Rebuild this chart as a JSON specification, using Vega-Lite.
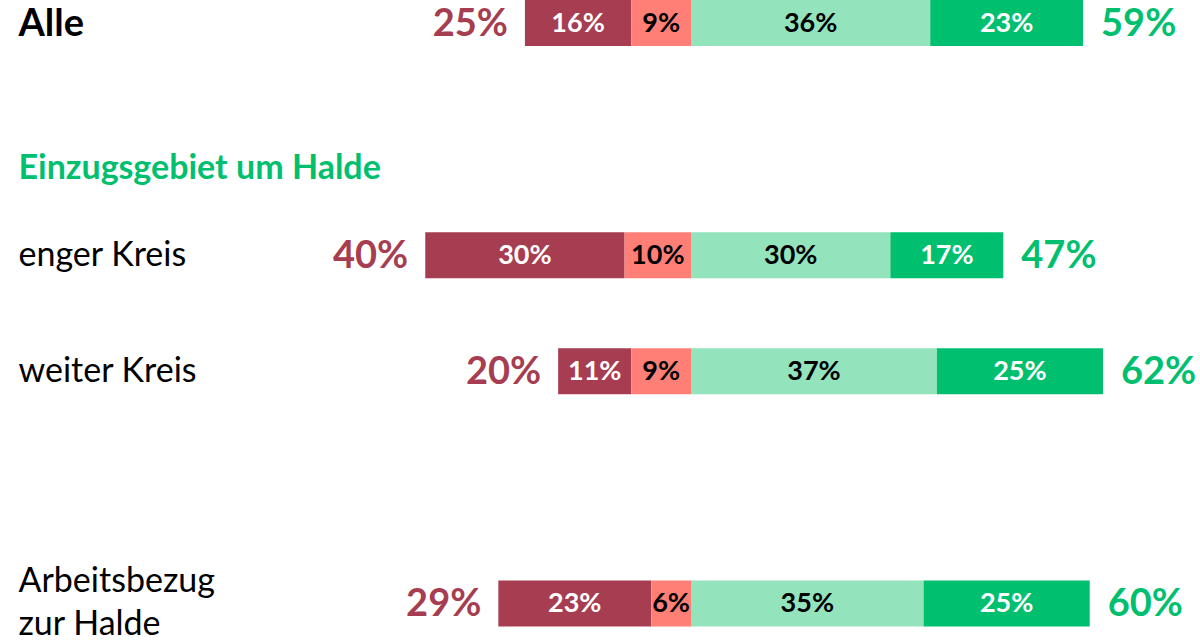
{
  "$schema": "https://vega.github.io/schema/vega-lite/v6.json",
  "width": 1200,
  "height": 641,
  "autosize": {"type": "none"},
  "padding": 0,
  "background": "white",
  "config": {"view": {"stroke": null}, "font": "Lato"},
  "datasets": {
    "segments": [
      {"gruppe": "Alle", "stufe": "sehr negativ", "rang": 2, "anteil": -16, "label": "16%"},
      {"gruppe": "Alle", "stufe": "eher negativ", "rang": 1, "anteil": -9, "label": "9%"},
      {"gruppe": "Alle", "stufe": "eher positiv", "rang": 3, "anteil": 36, "label": "36%"},
      {"gruppe": "Alle", "stufe": "sehr positiv", "rang": 4, "anteil": 23, "label": "23%"},
      {"gruppe": "enger Kreis", "stufe": "sehr negativ", "rang": 2, "anteil": -30, "label": "30%"},
      {"gruppe": "enger Kreis", "stufe": "eher negativ", "rang": 1, "anteil": -10, "label": "10%"},
      {"gruppe": "enger Kreis", "stufe": "eher positiv", "rang": 3, "anteil": 30, "label": "30%"},
      {"gruppe": "enger Kreis", "stufe": "sehr positiv", "rang": 4, "anteil": 17, "label": "17%"},
      {"gruppe": "weiter Kreis", "stufe": "sehr negativ", "rang": 2, "anteil": -11, "label": "11%"},
      {"gruppe": "weiter Kreis", "stufe": "eher negativ", "rang": 1, "anteil": -9, "label": "9%"},
      {"gruppe": "weiter Kreis", "stufe": "eher positiv", "rang": 3, "anteil": 37, "label": "37%"},
      {"gruppe": "weiter Kreis", "stufe": "sehr positiv", "rang": 4, "anteil": 25, "label": "25%"},
      {"gruppe": "Arbeitsbezug zur Halde", "stufe": "sehr negativ", "rang": 2, "anteil": -23, "label": "23%"},
      {"gruppe": "Arbeitsbezug zur Halde", "stufe": "eher negativ", "rang": 1, "anteil": -6, "label": "6%"},
      {"gruppe": "Arbeitsbezug zur Halde", "stufe": "eher positiv", "rang": 3, "anteil": 35, "label": "35%"},
      {"gruppe": "Arbeitsbezug zur Halde", "stufe": "sehr positiv", "rang": 4, "anteil": 25, "label": "25%"}
    ],
    "totals": [
      {"gruppe": "Alle", "seite": "negativ", "summe": -25, "label": "25%"},
      {"gruppe": "Alle", "seite": "positiv", "summe": 59, "label": "59%"},
      {"gruppe": "enger Kreis", "seite": "negativ", "summe": -40, "label": "40%"},
      {"gruppe": "enger Kreis", "seite": "positiv", "summe": 47, "label": "47%"},
      {"gruppe": "weiter Kreis", "seite": "negativ", "summe": -20, "label": "20%"},
      {"gruppe": "weiter Kreis", "seite": "positiv", "summe": 62, "label": "62%"},
      {"gruppe": "Arbeitsbezug zur Halde", "seite": "negativ", "summe": -29, "label": "29%"},
      {"gruppe": "Arbeitsbezug zur Halde", "seite": "positiv", "summe": 60, "label": "60%"}
    ]
  },
  "encoding": {
    "y": {
      "field": "gruppe",
      "type": "nominal",
      "title": null,
      "scale": {
        "domain": ["Alle", "Einzugsgebiet um Halde", "enger Kreis", "weiter Kreis", " ", "Arbeitsbezug zur Halde"],
        "paddingInner": 0.6038,
        "paddingOuter": 0.0625,
        "align": 0
      },
      "axis": {
        "domain": false,
        "ticks": false,
        "grid": false,
        "labelAlign": "left",
        "labelBaseline": "middle",
        "labelPadding": -18,
        "labelLimit": 0,
        "labelFont": "Lato",
        "labelLineHeight": 43,
        "labelExpr": "datum.value === 'Arbeitsbezug zur Halde' ? ['Arbeitsbezug', 'zur Halde'] : datum.value",
        "labelFontSize": {"condition": {"test": "datum.value === 'Alle'", "value": 38}, "value": 34},
        "labelFontWeight": {"condition": {"test": "datum.value === 'Alle' || datum.value === 'Einzugsgebiet um Halde'", "value": "bold"}, "value": "normal"},
        "labelColor": {"condition": {"test": "datum.value === 'Einzugsgebiet um Halde'", "value": "#00BF6F"}, "value": "black"},
        "labelOffset": {
          "condition": [
            {"test": "datum.value === 'Einzugsgebiet um Halde'", "value": 30},
            {"test": "datum.value === 'Arbeitsbezug zur Halde'", "value": -21},
            {"test": "datum.value === 'Alle'", "value": 2}
          ],
          "value": 1
        }
      }
    }
  },
  "layer": [
    {
      "data": {"name": "segments"},
      "mark": {"type": "bar"},
      "encoding": {
        "x": {"field": "anteil", "type": "quantitative", "stack": "zero", "scale": {"domain": [-104, 76.6], "nice": false, "zero": false}, "axis": null},
        "color": {
          "field": "stufe",
          "type": "nominal",
          "scale": {"domain": ["sehr negativ", "eher negativ", "eher positiv", "sehr positiv"], "range": ["#A63D50", "#FF7F77", "#93E3BC", "#00BF6F"]},
          "legend": null
        },
        "order": {"field": "rang", "type": "quantitative"}
      }
    },
    {
      "mark": {"type": "rule", "color": "#8C8C8C", "strokeWidth": 1},
      "encoding": {"x": {"datum": 0}, "y": null}
    },
    {
      "data": {"name": "segments"},
      "mark": {"type": "text", "fontWeight": "bold", "fontSize": 27, "font": "Lato", "baseline": "middle", "align": "center", "dy": 1},
      "encoding": {
        "x": {"field": "anteil", "type": "quantitative", "stack": "zero", "bandPosition": 0.5},
        "detail": {"field": "stufe", "type": "nominal"},
        "order": {"field": "rang", "type": "quantitative"},
        "text": {"field": "label", "type": "nominal"},
        "color": {"condition": {"test": "datum.stufe === 'sehr negativ' || datum.stufe === 'sehr positiv'", "value": "white"}, "value": "black"}
      }
    },
    {
      "data": {"name": "totals"},
      "transform": [{"filter": "datum.seite === 'negativ'"}],
      "mark": {"type": "text", "fontWeight": "bold", "fontSize": 38, "font": "Lato", "baseline": "middle", "align": "right", "dx": -17, "dy": 2, "color": "#A63D50"},
      "encoding": {
        "x": {"field": "summe", "type": "quantitative"},
        "text": {"field": "label", "type": "nominal"}
      }
    },
    {
      "data": {"name": "totals"},
      "transform": [{"filter": "datum.seite === 'positiv'"}],
      "mark": {"type": "text", "fontWeight": "bold", "fontSize": 38, "font": "Lato", "baseline": "middle", "align": "left", "dx": 18, "dy": 2, "color": "#00BF6F"},
      "encoding": {
        "x": {"field": "summe", "type": "quantitative"},
        "text": {"field": "label", "type": "nominal"}
      }
    }
  ]
}
